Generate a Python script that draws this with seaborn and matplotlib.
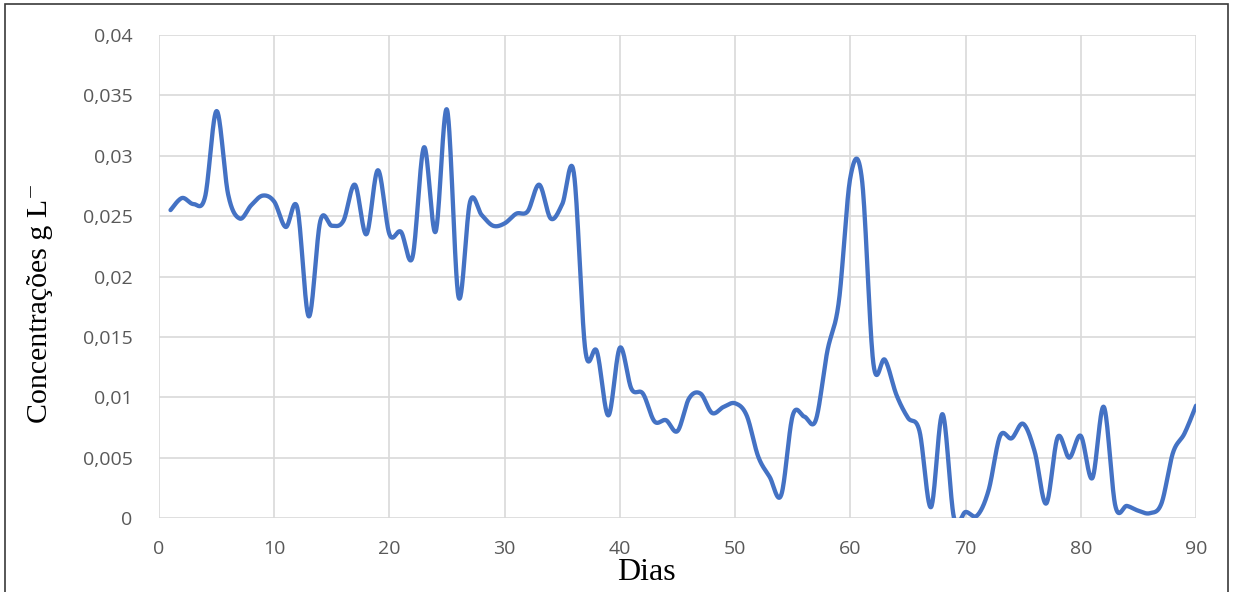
import numpy as np
import pandas as pd
import matplotlib
matplotlib.use("Agg")
import matplotlib.pyplot as plt
import seaborn as sns
from matplotlib.patches import Rectangle

# ---- data ----
days = list(range(1, 91))
concentration = [
    0.0255, 0.0265, 0.0260, 0.0266, 0.0337, 0.0268, 0.0248, 0.0259, 0.0267, 0.0262,
    0.0241, 0.0257, 0.0167, 0.0246, 0.0242, 0.0246, 0.0276, 0.0235, 0.0288, 0.0235,
    0.0237, 0.0216, 0.0307, 0.0237, 0.0338, 0.0183, 0.0262, 0.0251, 0.0242, 0.0244,
    0.0252, 0.0254, 0.0276, 0.0248, 0.0260, 0.0286, 0.0139, 0.0138, 0.0085, 0.0141,
    0.0107, 0.0103, 0.0080, 0.0081, 0.0072, 0.0099, 0.0103, 0.0087, 0.0092, 0.0095,
    0.0085, 0.0051, 0.0034, 0.0019, 0.0085, 0.0084, 0.0081, 0.0138, 0.0179, 0.0282,
    0.0281, 0.0128, 0.0131, 0.0102, 0.0083, 0.0072, 0.0009, 0.0086, 0.0000, 0.0005,
    0.0002, 0.0023, 0.0068, 0.0066, 0.0078, 0.0055, 0.0012, 0.0067, 0.0050, 0.0068,
    0.0033, 0.0092, 0.0010, 0.0010, 0.0006, 0.0004, 0.0012, 0.0054, 0.0070, 0.0093,
]
x_ticks = [0, 10, 20, 30, 40, 50, 60, 70, 80, 90]
x_tick_labels = ["0", "10", "20", "30", "40", "50", "60", "70", "80", "90"]
y_ticks = [0, 0.005, 0.01, 0.015, 0.02, 0.025, 0.03, 0.035, 0.04]
y_tick_labels = ["0", "0,005", "0,01", "0,015", "0,02", "0,025", "0,03", "0,035", "0,04"]
x_label = "Dias"
y_label = "Concentrações g L\u207b"


def smooth_curve(xs, ys, n=30):
    """Excel-like smoothed line (Catmull-Rom via cubic Bezier)."""
    xs = np.asarray(xs, float)
    ys = np.asarray(ys, float)
    P = np.column_stack([xs, ys])
    out = []
    for i in range(len(P) - 1):
        p0 = P[i - 1] if i > 0 else P[i]
        p1 = P[i]
        p2 = P[i + 1]
        p3 = P[i + 2] if i + 2 < len(P) else P[i + 1]
        c1 = p1 + (p2 - p0) / 6.0
        c2 = p2 - (p3 - p1) / 6.0
        t = np.linspace(0, 1, n, endpoint=(i == len(P) - 2))[:, None]
        seg = ((1 - t) ** 3) * p1 + 3 * ((1 - t) ** 2) * t * c1 + 3 * (1 - t) * t ** 2 * c2 + t ** 3 * p2
        out.append(seg)
    out = np.vstack(out)
    return out[:, 0], out[:, 1]


sx, sy = smooth_curve(days, concentration)
df = pd.DataFrame({"x": sx, "y": sy})

sns.set_theme(style="whitegrid")
plt.rcParams["font.family"] = ["Open Sans", "DejaVu Sans"]

fig = plt.figure(figsize=(12.33, 5.92), dpi=100)
ax = fig.add_axes([159 / 1233, 1 - 518 / 592, (1196 - 159) / 1233, (518 - 35) / 592])

sns.lineplot(data=df, x="x", y="y", sort=False, estimator=None, ax=ax,
             color="#4472C4", linewidth=3.1, solid_capstyle="round")

ax.set_xlim(0, 90)
ax.set_ylim(0, 0.04)
ax.set_xticks(x_ticks)
ax.set_xticklabels(x_tick_labels)
ax.set_yticks(y_ticks)
ax.set_yticklabels(y_tick_labels)
ax.set_xlabel("")
ax.set_ylabel("")
ax.grid(True, color="#d9d9d9", linewidth=1.2)
for s in ax.spines.values():
    s.set_visible(False)
ax.tick_params(axis="both", length=0, labelsize=14, labelcolor="#595959")
ax.tick_params(axis="y", pad=19)
ax.tick_params(axis="x", pad=16)
ax.set_facecolor("white")

serif = ["Liberation Serif", "DejaVu Serif"]
fig.text(646 / 1233, 1 - 573 / 592, x_label, ha="center", va="center",
         fontsize=23, family=serif, color="black")
fig.text(40 / 1233, 1 - 303 / 592, y_label, ha="center", va="center",
         rotation=90, fontsize=21.5, family=serif, color="black")

fig.patches.append(Rectangle((5 / 1233, -0.05), (1228 - 5) / 1233, 1.05 - 4 / 592,
                             transform=fig.transFigure, fill=False,
                             edgecolor="#3a3a3a", linewidth=1.2))

fig.savefig("out.png", dpi=100, facecolor="white")
